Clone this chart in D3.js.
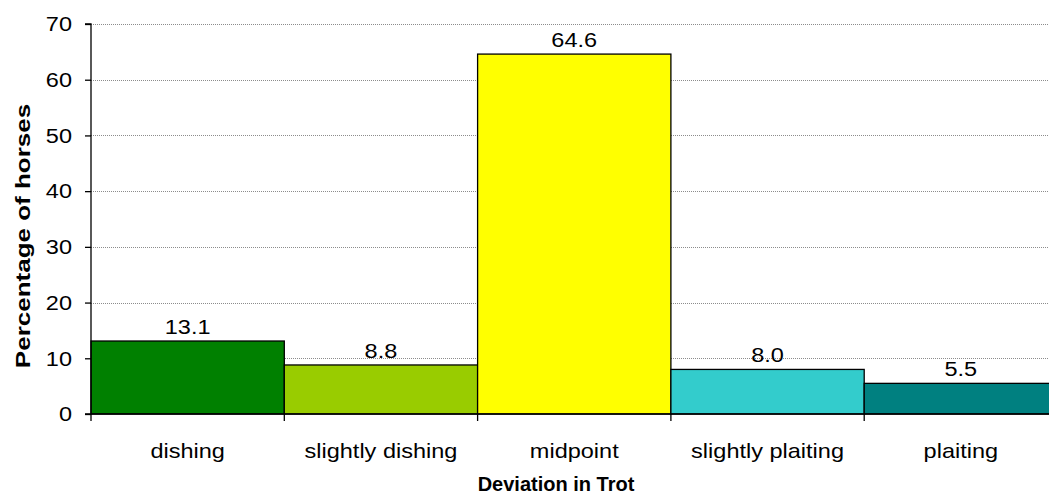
<!DOCTYPE html>
<html>
<head>
<meta charset="utf-8">
<script src="https://cdn.jsdelivr.net/npm/d3@7"></script>
<style>
  html, body { margin: 0; padding: 0; background: #fff; }
  svg { display: block; font-family: "Liberation Sans", Arial, sans-serif; }
</style>
</head>
<body>
<svg id="chart" width="1049" height="499"></svg>
<script>
const categories = ["dishing", "slightly dishing", "midpoint", "slightly plaiting", "plaiting"];
const values = [13.1, 8.8, 64.6, 8.0, 5.5];
const colors = ["#008000", "#99cc00", "#ffff00", "#33cccc", "#008080"];
const yTicks = [0, 10, 20, 30, 40, 50, 60, 70];

const svg = d3.select("#chart");
const plotLeft = 91, plotTop = 24, plotBottom = 414;
const bandW = 193.3;
const plotRight = plotLeft + bandW * categories.length;
const fontSize = 21, stretch = 1.12;

const x = d3.scaleBand().domain(categories).range([plotLeft, plotRight]).padding(0);
const y = d3.scaleLinear().domain([0, 70]).range([plotBottom, plotTop]);

// text placed at (px, py) with a slight horizontal stretch
function label(g, px, py, sx) {
  return g.attr("x", 0).attr("y", 0)
    .attr("transform", (d, i) => `translate(${px(d, i)},${py(d, i)}) scale(${sx},1)`);
}

// dotted gridlines
svg.append("g").selectAll("line").data(yTicks.filter(d => d > 0)).join("line")
  .attr("x1", plotLeft).attr("x2", 1049)
  .attr("y1", d => Math.round(y(d)) + 0.5).attr("y2", d => Math.round(y(d)) + 0.5)
  .attr("stroke", "#8c8c8c").attr("stroke-width", 1).attr("stroke-dasharray", "1,1");

// bars
svg.append("g").selectAll("rect").data(categories).join("rect")
  .attr("x", d => x(d)).attr("width", x.bandwidth())
  .attr("y", (d, i) => y(values[i])).attr("height", (d, i) => plotBottom - y(values[i]))
  .attr("fill", (d, i) => colors[i])
  .attr("stroke", "#000").attr("stroke-width", 1.3);

// value labels
label(svg.append("g").selectAll("text").data(categories).join("text"),
      d => x(d) + x.bandwidth() / 2, (d, i) => y(values[i]) - 7, stretch)
  .attr("text-anchor", "middle").attr("font-size", fontSize).attr("fill", "#000")
  .text((d, i) => values[i].toFixed(1));

// y axis
const yAxis = d3.axisLeft(y).tickValues(yTicks).tickSize(6).tickPadding(8).tickFormat(d3.format("d"));
const gy = svg.append("g").attr("transform", `translate(${plotLeft},0)`).call(yAxis);
gy.select(".domain").attr("stroke", "#000").attr("stroke-width", 1.3).attr("d", `M-6,${plotTop}H0V${plotBottom}H-6`);
gy.selectAll(".tick line").attr("stroke", "#000").attr("stroke-width", 1.3);
gy.selectAll(".tick text")
  .attr("x", 0).attr("transform", `translate(-19,0) scale(${stretch},1)`)
  .attr("font-size", fontSize).attr("fill", "#000")
  .attr("font-family", "Liberation Sans, Arial, sans-serif");

// x axis baseline and boundary ticks
svg.append("line").attr("x1", plotLeft).attr("x2", 1049).attr("y1", plotBottom).attr("y2", plotBottom)
  .attr("stroke", "#000").attr("stroke-width", 1.5);
const bounds = categories.map(d => x(d)).concat([plotRight]);
svg.append("g").selectAll("line").data(bounds).join("line")
  .attr("x1", d => d).attr("x2", d => d).attr("y1", plotBottom).attr("y2", plotBottom + 7)
  .attr("stroke", "#000").attr("stroke-width", 1.3);

// category labels
label(svg.append("g").selectAll("text").data(categories).join("text"),
      d => x(d) + x.bandwidth() / 2, () => 458, stretch)
  .attr("text-anchor", "middle").attr("font-size", fontSize).attr("fill", "#000")
  .text(d => d);

// axis titles
svg.append("text").attr("x", 556).attr("y", 491)
  .attr("text-anchor", "middle").attr("font-size", 20).attr("font-weight", "bold")
  .text("Deviation in Trot");
svg.append("text").attr("transform", `translate(30,236) rotate(-90) scale(1.3,1)`)
  .attr("text-anchor", "middle").attr("font-size", 20).attr("font-weight", "bold")
  .text("Percentage of horses");
</script>
</body>
</html>
